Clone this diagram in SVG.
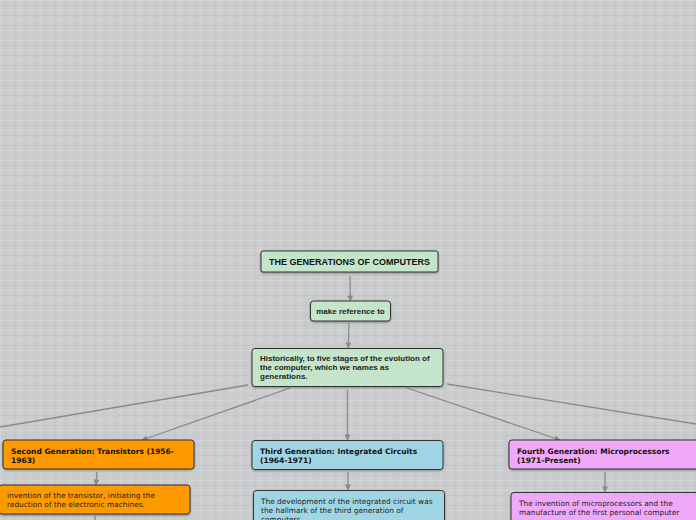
<svg xmlns="http://www.w3.org/2000/svg" width="696" height="520" viewBox="0 0 696 520">
<defs>
<pattern id="grid" width="10" height="10" patternUnits="userSpaceOnUse">
<rect width="10" height="10" fill="#cbccce"/>
<path d="M0 0.5H10M0.5 0V10" stroke="#d3d4d6" stroke-width="1"/>
<path d="M0 5.5H10M5.5 0V10" stroke="#c6c7c9" stroke-width="1"/>
</pattern>
<marker id="arr" viewBox="0 0 10 10" refX="9" refY="5" markerWidth="8" markerHeight="6" orient="auto" markerUnits="userSpaceOnUse">
<path d="M0 0L10 5L0 10Z" fill="#8a8a8a"/>
</marker>
<filter id="sh" x="-10%" y="-20%" width="120%" height="150%">
<feDropShadow dx="0" dy="1" stdDeviation="0.8" flood-color="#000" flood-opacity="0.35"/>
</filter>
</defs>
<style>
.box{stroke:#333;stroke-width:1;filter:url(#sh)}
.g{fill:#c5e5cb}
.o{fill:#ff9900}
.b{fill:#a0d5e3}
.p{fill:#f0a8f8}
.ttl{font-family:"Liberation Sans",Arial,sans-serif;font-weight:bold;font-size:9px;fill:#111}
.hd{font-family:"Liberation Sans",Arial,sans-serif;font-weight:bold;font-size:8px;fill:#222}
.gen{font-family:"DejaVu Sans",Verdana,sans-serif;font-weight:bold;font-size:7.5px;fill:#111}
.txt{font-family:"DejaVu Sans",Verdana,sans-serif;font-size:7.4px;fill:#222}
.c{fill:none;stroke:#8a8a8a;stroke-width:1.3}
</style>
<rect width="696" height="520" fill="url(#grid)"/>
<g id="connectors">
<path class="c" d="M350 276L350.3 301" marker-end="url(#arr)"/>
<path class="c" d="M349 323L348.3 348" marker-end="url(#arr)"/>
<path class="c" d="M248 385L0 427"/>
<path class="c" d="M290 388L142 440" marker-end="url(#arr)"/>
<path class="c" d="M347.5 390L347.5 440" marker-end="url(#arr)"/>
<path class="c" d="M407 388L560 440" marker-end="url(#arr)"/>
<path class="c" d="M447 384L696 424"/>
<path class="c" d="M97 472L96 485" marker-end="url(#arr)"/>
<path class="c" d="M95 516L95 520"/>
<path class="c" d="M348 472L348 490" marker-end="url(#arr)"/>
<path class="c" d="M605 472L605 492" marker-end="url(#arr)"/>
</g>
<g id="title">
<rect class="box g" x="261" y="251" width="177" height="21" rx="2"/>
<text class="ttl" x="349.5" y="265" text-anchor="middle">THE GENERATIONS OF COMPUTERS</text>
</g>
<g id="make-reference">
<rect class="box g" x="310.5" y="301" width="80" height="20" rx="3"/>
<text class="hd" x="350.5" y="313.5" text-anchor="middle" font-size="7px">make reference to</text>
</g>
<g id="historically">
<rect class="box g" x="252" y="348.5" width="191" height="38" rx="3"/>
<text class="hd"><tspan x="260" y="360.5">Historically, to five stages of the evolution of</tspan><tspan x="260" y="369.5">the computer, which we names as</tspan><tspan x="260" y="378.5">generations.</tspan></text>
</g>
<g id="second-gen">
<rect class="box o" x="3" y="440" width="191" height="29" rx="3"/>
<text class="gen"><tspan x="11" y="453.5">Second Generation: Transistors (1956-</tspan><tspan x="11" y="462.5">1963)</tspan></text>
</g>
<g id="transistor">
<rect class="box o" x="-1" y="485" width="191" height="29" rx="3"/>
<text class="txt"><tspan x="7" y="497.5">invention of the transistor, initiating the</tspan><tspan x="7" y="506.5">reduction of the electronic machines.</tspan></text>
</g>
<g id="third-gen">
<rect class="box b" x="252" y="440.5" width="191" height="29" rx="3"/>
<text class="gen"><tspan x="260" y="454">Third Generation: Integrated Circuits</tspan><tspan x="260" y="463">(1964-1971)</tspan></text>
</g>
<g id="integrated">
<rect class="box b" x="253.5" y="490.5" width="191" height="40" rx="3"/>
<text class="txt"><tspan x="261" y="503.5">The development of the integrated circuit was</tspan><tspan x="261" y="512.5">the hallmark of the third generation of</tspan><tspan x="261" y="521.5">computers.</tspan></text>
</g>
<g id="fourth-gen">
<rect class="box p" x="509" y="440" width="191" height="29" rx="3"/>
<text class="gen"><tspan x="517" y="453.5">Fourth Generation:  Microprocessors</tspan><tspan x="517" y="462.5">(1971-Present)</tspan></text>
</g>
<g id="microprocessors">
<rect class="box p" x="511" y="492.5" width="191" height="40" rx="3"/>
<text class="txt"><tspan x="519" y="506">The invention of microprocessors and the</tspan><tspan x="519" y="515">manufacture of the first personal computer</tspan></text>
</g>
</svg>
